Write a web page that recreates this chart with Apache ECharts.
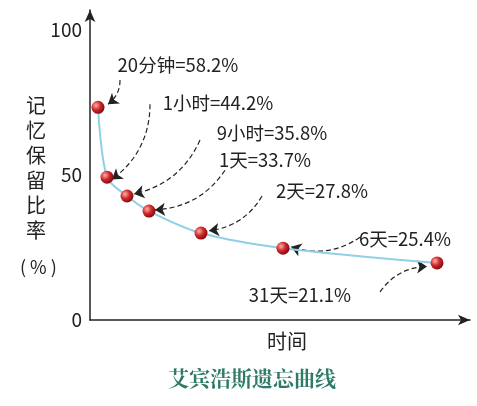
<!DOCTYPE html>
<html><head><meta charset="utf-8">
<script src="https://cdn.jsdelivr.net/npm/echarts@6/dist/echarts.min.js"></script>
<style>html,body{margin:0;padding:0;background:#fff}#c{width:477px;height:406px}</style>
</head><body><div id="c"></div>
<script>
// time positions (horizontal position along the axis) and retention values as drawn
const timePos = [8, 17, 37, 59, 111, 193, 347];
const retention = [73.4, 49.3, 42.8, 37.6, 30.0, 24.8, 19.7];
const labels = ['20分钟=58.2%', '1小时=44.2%', '9小时=35.8%', '1天=33.7%', '2天=27.8%', '6天=25.4%', '31天=21.1%'];
const yTicks = [0, 50, 100];
// annotation arrows [from, to]
const arrows = [
  [[30, 82.8], [18, 74.5]],
  [[60, 74.5], [22, 48.5]],
  [[110, 62.1], [44, 43.5]],
  [[135, 51.7], [65, 38.0]],
  [[172, 42.8], [119, 30.8]],
  [[270, 28.6], [201, 25.3]],
  [[290, 9.7], [337, 18.5]]
];
const labelOffsets = [[80,-42],[111,-74],[145,-63],[116,-51],[121,-42],[122,-9],[-137,32]];

const chart = echarts.init(document.getElementById('c'));
const font = '"Noto Sans CJK SC", sans-serif';
chart.setOption({
  animation: false,
  grid: {left: 90, right: 7, top: 10, bottom: 86},
  xAxis: {type: 'value', min: 0, max: 380, splitLine: {show: false},
    axisLine: {lineStyle: {color: '#222', width: 1.5}, symbol: ['none', 'arrow'], symbolSize: [8, 12]},
    axisTick: {show: false}, axisLabel: {show: false}},
  yAxis: {type: 'value', min: 0, max: 107, splitLine: {show: false},
    axisLine: {show: true, lineStyle: {color: '#222', width: 1.5}, symbol: ['none', 'arrow'], symbolSize: [8, 12]},
    axisTick: {show: false},
    axisLabel: {customValues: yTicks, color: '#222', fontSize: 19, fontFamily: font, margin: 8}},
  series: [{
    type: 'line', data: timePos.map((x, i) => [x, retention[i]]), smooth: 0.3,
    lineStyle: {color: '#8fd0e8', width: 2},
    symbol: 'circle', symbolSize: 13,
    itemStyle: {color: {type: 'radial', x: 0.35, y: 0.35, r: 0.7,
      colorStops: [{offset: 0, color: '#ffb0a8'}, {offset: 0.5, color: '#d0282a'}, {offset: 1, color: '#7a0a10'}]}},
    label: {show: true, position: 'inside', color: '#222', fontSize: 18.5, fontFamily: font,
      formatter: p => labels[p.dataIndex]},
    labelLayout: p => ({dx: labelOffsets[p.dataIndex][0], dy: labelOffsets[p.dataIndex][1]}),
    z: 3
  }, {
    type: 'lines', coordinateSystem: 'cartesian2d', z: 2,
    data: arrows.map(a => ({coords: a})),
    symbol: ['none', 'arrow'], symbolSize: 10,
    lineStyle: {color: '#222', width: 1.2, type: [5, 3], curveness: 0.25, opacity: 1}
  }],
  graphic: [
    {type: 'text', left: 26, top: 93, style: {text: '记\n忆\n保\n留\n比\n率', fontSize: 20, lineHeight: 25, fill: '#222', fontFamily: font}},
    {type: 'text', left: 20, top: 258, style: {text: '( % )', fontSize: 18, fill: '#222', fontFamily: font}},
    {type: 'text', left: 267, top: 331, style: {text: '时间', fontSize: 20, fill: '#222', fontFamily: font}},
    {type: 'text', left: 168, top: 368, style: {text: '艾宾浩斯遗忘曲线', fontSize: 21, fontWeight: 'bold', fill: '#2d7a68', fontFamily: '"Noto Serif CJK SC","Noto Sans CJK SC", serif'}}
  ]
});
</script></body></html>
